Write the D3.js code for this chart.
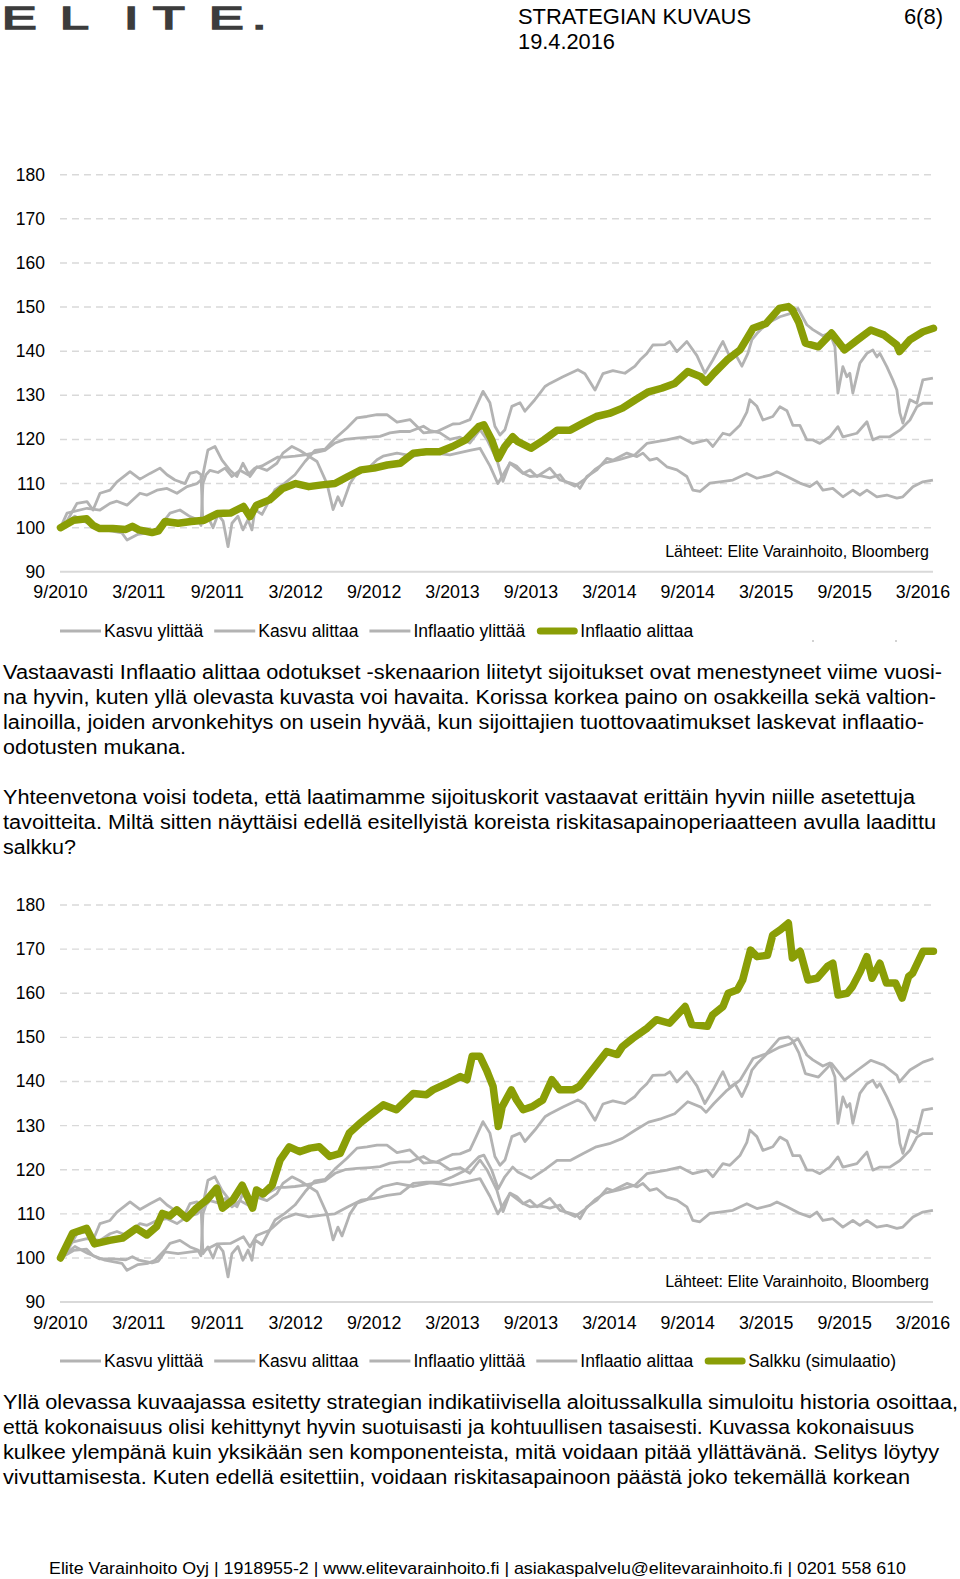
<!DOCTYPE html>
<html><head><meta charset="utf-8">
<script src="https://cdn.jsdelivr.net/npm/d3@7"></script>
<style>
body{margin:0;background:#fff}
svg{display:block}
text{font-family:"Liberation Sans",Arial,Helvetica,sans-serif;fill:#000}
</style>
</head><body>
<svg id="page" width="960" height="1579"></svg>
<script>
// ---------- DATA ----------
// x = months since September 2010
const tickMonths = [0,6,12,18,24,30,36,42,48,54,60,66];
const tickLabels = ["9/2010","3/2011","9/2011","3/2012","9/2012","3/2013","9/2013","3/2014","9/2014","3/2015","9/2015","3/2016"];
const yTicks = [90,100,110,120,130,140,150,160,170,180];

const kasvuYlittaa = [[0,100],[0.5,101.5],[1.26,105.5],[2.03,105.9],[2.49,104],[3.02,107.8],[3.79,108.5],[4.32,110.4],[5.32,112.7],[6.08,111],[6.85,112.3],[7.61,113.5],[8.15,112],[8.76,110.8],[9.53,110],[9.91,112.3],[10.44,112.7],[10.75,112],[10.9,101],[11.28,102.5],[11.67,100],[12.05,103],[12.44,101.5],[12.82,95.7],[13.12,101],[13.58,102.6],[13.96,99.5],[14.35,101.8],[14.65,99.5],[14.88,104.1],[15.42,103],[15.88,105.6],[16.41,108.6],[17.17,110.1],[17.94,112],[18.71,115],[19.47,117.5],[20.24,117.8],[21.01,120.2],[21.92,122.6],[22.69,124.9],[23.45,125.2],[24.22,125.6],[24.98,125.6],[25.75,123.9],[26.74,124.5],[27.77,121.5],[28.81,121.8],[30.03,123.5],[30.57,123.6],[31.33,124.5],[31.79,127.4],[32.33,130.9],[32.86,128.3],[33.24,123],[33.63,121],[34.01,122.2],[34.54,127.5],[35.16,128.3],[35.54,126.4],[36.3,129],[36.69,130.5],[37.07,132],[37.45,132.7],[38.45,134.2],[39.59,135.8],[40.13,134.9],[40.9,131.2],[41.51,134.9],[42.27,135.6],[43.19,135],[43.96,136.6],[44.34,138],[44.87,139.5],[45.33,141.4],[46.25,141.5],[46.63,142.2],[47.17,139.9],[47.93,142.2],[48.7,139],[49.31,135],[49.92,138],[50.46,141],[50.69,142.2],[51.22,138.7],[51.61,139.5],[52.14,136.6],[52.6,139.5],[52.91,142.6],[53.29,144],[54.06,146.3],[55.05,147.8],[55.82,148.5],[56.43,149.7],[57.11,146],[57.57,144.9],[58.34,143.5],[58.87,144.2],[59.26,141],[59.49,130.5],[59.87,136.5],[60.17,134.2],[60.4,135],[60.63,130.5],[61.17,137.3],[61.71,139.5],[62.16,140.3],[62.47,138.7],[62.7,139.5],[63.23,136.5],[63.69,133.5],[64.0,131.2],[64.23,126],[64.46,123.7],[65.0,129],[65.53,128.2],[65.99,133.5],[66.76,133.9]];

const kasvuAlittaa = [[0,100],[0.5,101.2],[1.1,102.6],[2.1,101],[3.4,99.5],[4.7,98.8],[5.09,97.2],[5.93,98.5],[6.69,98.8],[7.23,99.5],[7.99,101.8],[8.38,103.3],[9.14,104],[9.91,102.5],[10.52,101.8],[10.75,100.5],[10.9,110],[11.13,112],[11.44,113],[12.05,112.5],[12.59,113.5],[13.12,111.6],[13.73,113],[14.35,112],[14.88,113.5],[15.42,114],[16.03,115],[16.64,116],[17.17,116],[17.94,116.2],[18.71,116.5],[19.47,117],[20.24,117.5],[21.01,119.2],[21.77,120],[22.69,120.3],[23.68,120.5],[24.45,120.7],[25.21,121.5],[25.98,121.8],[26.74,121.8],[27.77,123],[28.3,122],[29.04,121.5],[29.8,120],[30.57,120.5],[31.33,119.2],[32.1,122.2],[32.63,120],[33.39,115.4],[33.86,110.5],[34.39,114.7],[34.93,113.9],[35.39,112.4],[35.92,111.6],[36.69,111.8],[37.45,111.3],[38.22,112],[38.6,110.5],[39.37,109.4],[40.13,111],[40.9,113.2],[41.66,114.7],[42.81,115.5],[43.96,116.5],[44.87,119.1],[46.4,119.9],[47.4,120.6],[48.39,119.1],[49.46,119.9],[49.92,118.4],[50.69,121.4],[51.22,121],[51.99,123.2],[52.52,126.2],[52.75,129],[53.29,127.5],[53.75,124.4],[54.51,125.2],[55.05,127.4],[55.59,126.5],[56.04,123.2],[56.58,123.2],[57.11,119.9],[57.57,119.9],[58.11,119.1],[58.87,120.6],[59.49,122.9],[59.87,120.6],[60.94,121.4],[61.71,124],[62.16,119.9],[62.7,120.6],[63.46,120.6],[64.23,122.1],[65.0,124.4],[65.53,127.4],[65.99,128.2],[66.76,128.2]];

const inflaatioYlittaa = [[0,100],[0.5,103.3],[2.03,104.4],[3.02,104],[3.79,105.5],[4.32,106],[5.09,105.1],[6.08,107.8],[6.62,107.4],[7.38,108.5],[8.15,108.9],[8.91,107.8],[9.68,109.3],[10.44,110],[10.83,111],[11.28,117.6],[11.82,118.4],[12.36,115.3],[12.97,113],[13.5,111.6],[13.96,114.6],[14.5,111.6],[15.03,113.8],[15.8,113],[16.56,114.6],[17.02,116.9],[17.71,118.4],[18.32,117.5],[19.63,115],[20.39,110],[20.86,104.1],[21.23,107],[21.54,105],[22.15,110],[22.69,112.4],[23.45,113.2],[24.22,115.4],[24.68,116.2],[25.75,116.9],[27.0,116.2],[28.3,117],[29.8,116.5],[31.33,117.5],[32.1,118],[32.86,114],[33.47,110],[33.63,110.8],[34.39,114.6],[35.39,112.3],[35.92,113.1],[36.46,111.6],[37.45,113.5],[38.22,110.8],[39.52,109.7],[39.75,108.9],[40.28,111.6],[41.05,113.1],[41.81,115.7],[42.27,115.3],[43.34,116.9],[44.11,116.1],[44.57,116.9],[45.1,115.3],[45.64,115.7],[46.4,113.8],[47.17,113.1],[47.93,111.6],[48.39,108.5],[48.93,108.2],[49.69,110.1],[50.46,110.4],[51.45,110.8],[52.52,112.3],[53.29,111.2],[54.29,111.9],[54.82,112.7],[55.59,111.6],[56.58,110.1],[57.34,109.3],[57.88,110.4],[58.34,108.5],[59.1,108.9],[59.87,107],[60.63,108.5],[61.17,107.4],[61.71,108.5],[62.47,107],[63.23,107.4],[64.0,106.7],[64.46,107],[65.23,109.3],[65.99,110.4],[66.76,110.8]];

const inflaatioAlittaa = [[0,100],[1,101.7],[2,102],[2.5,100.5],[3,99.8],[4,99.8],[5,99.6],[5.5,100.3],[6,99.5],[7,98.9],[7.5,99.3],[8,101.4],[9,101],[10,101.4],[11,101.7],[12,103.2],[13,103.3],[14,104.8],[14.5,102.5],[15,105.1],[16,106.3],[17,108.9],[18,110],[19,109.3],[20,109.7],[21,110],[22,111.6],[23,113.1],[24,113.5],[25,114.2],[26,114.6],[27,116.9],[28,117.2],[29,117.2],[30,118.4],[31,119.9],[32,122.9],[32.4,123.3],[33,119.9],[33.5,115.7],[34,118.4],[34.6,120.6],[35,119.5],[36,118],[37,119.9],[38,122.1],[39,122.1],[40,123.7],[41,125.2],[42,125.9],[43,127.1],[44,129],[45,130.8],[46,131.6],[47,132.7],[48,135.4],[49,134.2],[49.4,133],[50,135],[51,138],[52,140.3],[53,145.2],[54,146.3],[55,149.7],[55.7,150.1],[56,149.4],[56.5,146.5],[57,141.8],[58,141],[59,144.1],[60,140.3],[61,142.6],[62,144.8],[63,143.7],[64,141.4],[64.2,139.9],[65,142.6],[66,144.4],[66.8,145.2]];

const salkku = [[0,100],[0.92,105.6],[2.0,106.7],[2.6,103.2],[3.75,104],[4.75,104.5],[5.8,106.7],[6.6,105.2],[7.35,107.1],[7.8,110.1],[8.35,109.5],[8.9,110.9],[9.65,109],[10.4,111.3],[11.2,113.2],[11.95,115.8],[12.4,111.3],[13.2,113.2],[13.9,116.5],[14.7,111.3],[15.0,115.4],[15.5,114.5],[16.2,116.5],[16.8,122.2],[17.5,125.2],[18.3,124.1],[19.1,124.9],[19.8,125.2],[20.6,123],[21.4,123.7],[22.1,128.3],[22.9,130.5],[23.7,132.4],[24.7,134.7],[25.7,133.6],[27.0,137.3],[28.0,137],[28.5,138.1],[29.6,139.6],[30.6,141.1],[31.1,140.4],[31.5,145.7],[32.1,145.7],[32.6,142.6],[33.1,138.9],[33.5,129.8],[33.8,134.3],[34.5,138.1],[34.9,135.8],[35.4,133.6],[36.1,134.3],[36.9,135.8],[37.6,140.4],[38.2,138.1],[39.2,138.1],[39.7,138.9],[40.5,141.9],[41.8,146.8],[42.6,146.1],[43.0,147.9],[43.8,149.8],[44.9,152.1],[45.6,154],[46.6,153.2],[47.8,157],[48.3,152.9],[49.5,152.5],[49.9,155.1],[50.7,157],[51.1,160],[51.8,160.8],[52.2,163],[52.8,169.8],[53.3,168.3],[54.1,168.6],[54.5,173.2],[55.1,174.4],[55.7,175.9],[56.0,168],[56.6,169.5],[57.2,163],[57.9,163.4],[58.7,166.1],[59.1,166.8],[59.5,159.6],[60.2,160],[60.6,161.5],[61.2,164.9],[61.7,168.3],[62.1,163.4],[62.7,166.8],[63.2,162.3],[63.9,162.3],[64.4,158.9],[64.9,163.8],[65.2,164.5],[66.0,169.5],[66.8,169.5]];

const seriesNames = ["Kasvu ylittää","Kasvu alittaa","Inflaatio ylittää","Inflaatio alittaa","Salkku (simulaatio)"];
const sourceText = "Lähteet: Elite Varainhoito, Bloomberg";

const para1 = [
 ["Vastaavasti Inflaatio alittaa odotukset -skenaarion liitetyt sijoitukset ovat menestyneet viime vuosi-",939],
 ["na hyvin, kuten yllä olevasta kuvasta voi havaita. Korissa korkea paino on osakkeilla sekä valtion-",933],
 ["lainoilla, joiden arvonkehitys on usein hyvää, kun sijoittajien tuottovaatimukset laskevat inflaatio-",921],
 ["odotusten mukana.",183]];
const para2 = [
 ["Yhteenvetona voisi todeta, että laatimamme sijoituskorit vastaavat erittäin hyvin niille asetettuja",912],
 ["tavoitteita. Miltä sitten näyttäisi edellä esitellyistä koreista riskitasapainoperiaatteen avulla laadittu",933],
 ["salkku?",73]];
const para3 = [
 ["Yllä olevassa kuvaajassa esitetty strategian indikatiivisella aloitussalkulla simuloitu historia osoittaa,",955],
 ["että kokonaisuus olisi kehittynyt hyvin suotuisasti ja kohtuullisen tasaisesti. Kuvassa kokonaisuus",911],
 ["kulkee ylempänä kuin yksikään sen komponenteista, mitä voidaan pitää yllättävänä. Selitys löytyy",936],
 ["vivuttamisesta. Kuten edellä esitettiin, voidaan riskitasapainoon päästä joko tekemällä korkean",907]];
const footerText = "Elite Varainhoito Oyj | 1918955-2 | www.elitevarainhoito.fi | asiakaspalvelu@elitevarainhoito.fi | 0201 558 610";

// ---------- DRAW ----------
const svg = d3.select("#page");
const GRAY = "#b3b3b3", GREEN = "#8a9e06", GRID = "#d9d9d9";

// header
const logo = ["E","L","I","T","E","."];
const logoX = [2,60,124,153,209,252];
logo.forEach((c,i)=>{
  svg.append("text").attr("x",logoX[i]).attr("y",29)
    .attr("transform",`translate(${logoX[i]},0) scale(1.62,1) translate(${-logoX[i]},0)`)
    .style("font-size","32px").style("fill","#3c3c3c")
    .style("stroke","#3c3c3c").style("stroke-width","1.6px").text(c);
});
svg.append("text").attr("x",518).attr("y",24).style("font-size","22px").attr("textLength",233).attr("lengthAdjust","spacingAndGlyphs").text("STRATEGIAN KUVAUS");
svg.append("text").attr("x",518).attr("y",49).style("font-size","22px").attr("textLength",97).attr("lengthAdjust","spacingAndGlyphs").text("19.4.2016");
svg.append("text").attr("x",943).attr("y",24).attr("text-anchor","end").style("font-size","22px").text("6(8)");

const x = d3.scaleLinear().domain([0,66]).range([60.5,923]);
const line = yS => d3.line().x(d=>x(d[0])).y(d=>yS(d[1])).curve(d3.curveLinear);

function chart(y180, grays, green, legendItems, legendY, xLabelY, srcY){
  const y = d3.scaleLinear().domain([90,180]).range([y180+397.1, y180]);
  const g = svg.append("g");
  // grid
  g.selectAll(".grid").data(yTicks).join("line")
    .attr("x1",60).attr("x2",933).attr("y1",d=>y(d)).attr("y2",d=>y(d))
    .attr("stroke",GRID).attr("stroke-width",d=>d===90?2:1.4)
    .attr("stroke-dasharray",d=>d===90?null:"7,5");
  // y labels
  g.selectAll(".yl").data(yTicks).join("text")
    .attr("x",45).attr("y",d=>y(d)+6).attr("text-anchor","end")
    .style("font-size","17.5px").text(d=>d);
  // x labels
  g.selectAll(".xl").data(tickMonths).join("text")
    .attr("x",d=>x(d)).attr("y",xLabelY).attr("text-anchor","middle")
    .style("font-size","17.8px").text((d,i)=>tickLabels[i]);
  // lines
  grays.forEach(s=>{
    g.append("path").attr("d",line(y)(s)).attr("fill","none")
      .attr("stroke",GRAY).attr("stroke-width",2.8).attr("stroke-linejoin","round");
  });
  g.append("path").attr("d",line(y)(green)).attr("fill","none")
    .attr("stroke",GREEN).attr("stroke-width",7.5).attr("stroke-linejoin","round").attr("stroke-linecap","round");
  // source
  g.append("text").attr("x",929).attr("y",srcY).attr("text-anchor","end").style("font-size","16px").text(sourceText);
  // legend
  let lx = 60;
  legendItems.forEach(it=>{
    g.append("line").attr("x1",lx+ (it.green?4:0)).attr("x2",lx+41-(it.green?3:0)).attr("y1",legendY).attr("y2",legendY)
      .attr("stroke",it.green?GREEN:GRAY).attr("stroke-width",it.green?7:3).attr("stroke-linecap",it.green?"round":"butt");
    const t = g.append("text").attr("x",lx+44).attr("y",legendY+6).style("font-size","17.5px").text(it.name);
    lx = lx + 44 + t.node().getComputedTextLength() + 11;
  });
}

chart(174.7, [kasvuYlittaa,kasvuAlittaa,inflaatioYlittaa], inflaatioAlittaa,
  [{name:seriesNames[0]},{name:seriesNames[1]},{name:seriesNames[2]},{name:seriesNames[3],green:true}],
  631, 598, 557);
svg.append("circle").attr("cx",813).attr("cy",641).attr("r",0.8).attr("fill","#999");
svg.append("circle").attr("cx",896).attr("cy",641).attr("r",0.8).attr("fill","#999");

chart(905, [kasvuYlittaa,kasvuAlittaa,inflaatioYlittaa,inflaatioAlittaa], salkku,
  [{name:seriesNames[0]},{name:seriesNames[1]},{name:seriesNames[2]},{name:seriesNames[3]},{name:seriesNames[4],green:true}],
  1361, 1329, 1287);

// paragraphs
function para(lines, y0){
  lines.forEach((l,i)=>{
    svg.append("text").attr("x",3).attr("y",y0+i*25).style("font-size","20px")
      .attr("textLength",l[1]).attr("lengthAdjust","spacingAndGlyphs").text(l[0]);
  });
}
para(para1, 679);
para(para2, 804);
para(para3, 1409);
svg.append("text").attr("x",49).attr("y",1574).style("font-size","17px")
  .attr("textLength",857).attr("lengthAdjust","spacingAndGlyphs").text(footerText);
</script>
</body></html>
